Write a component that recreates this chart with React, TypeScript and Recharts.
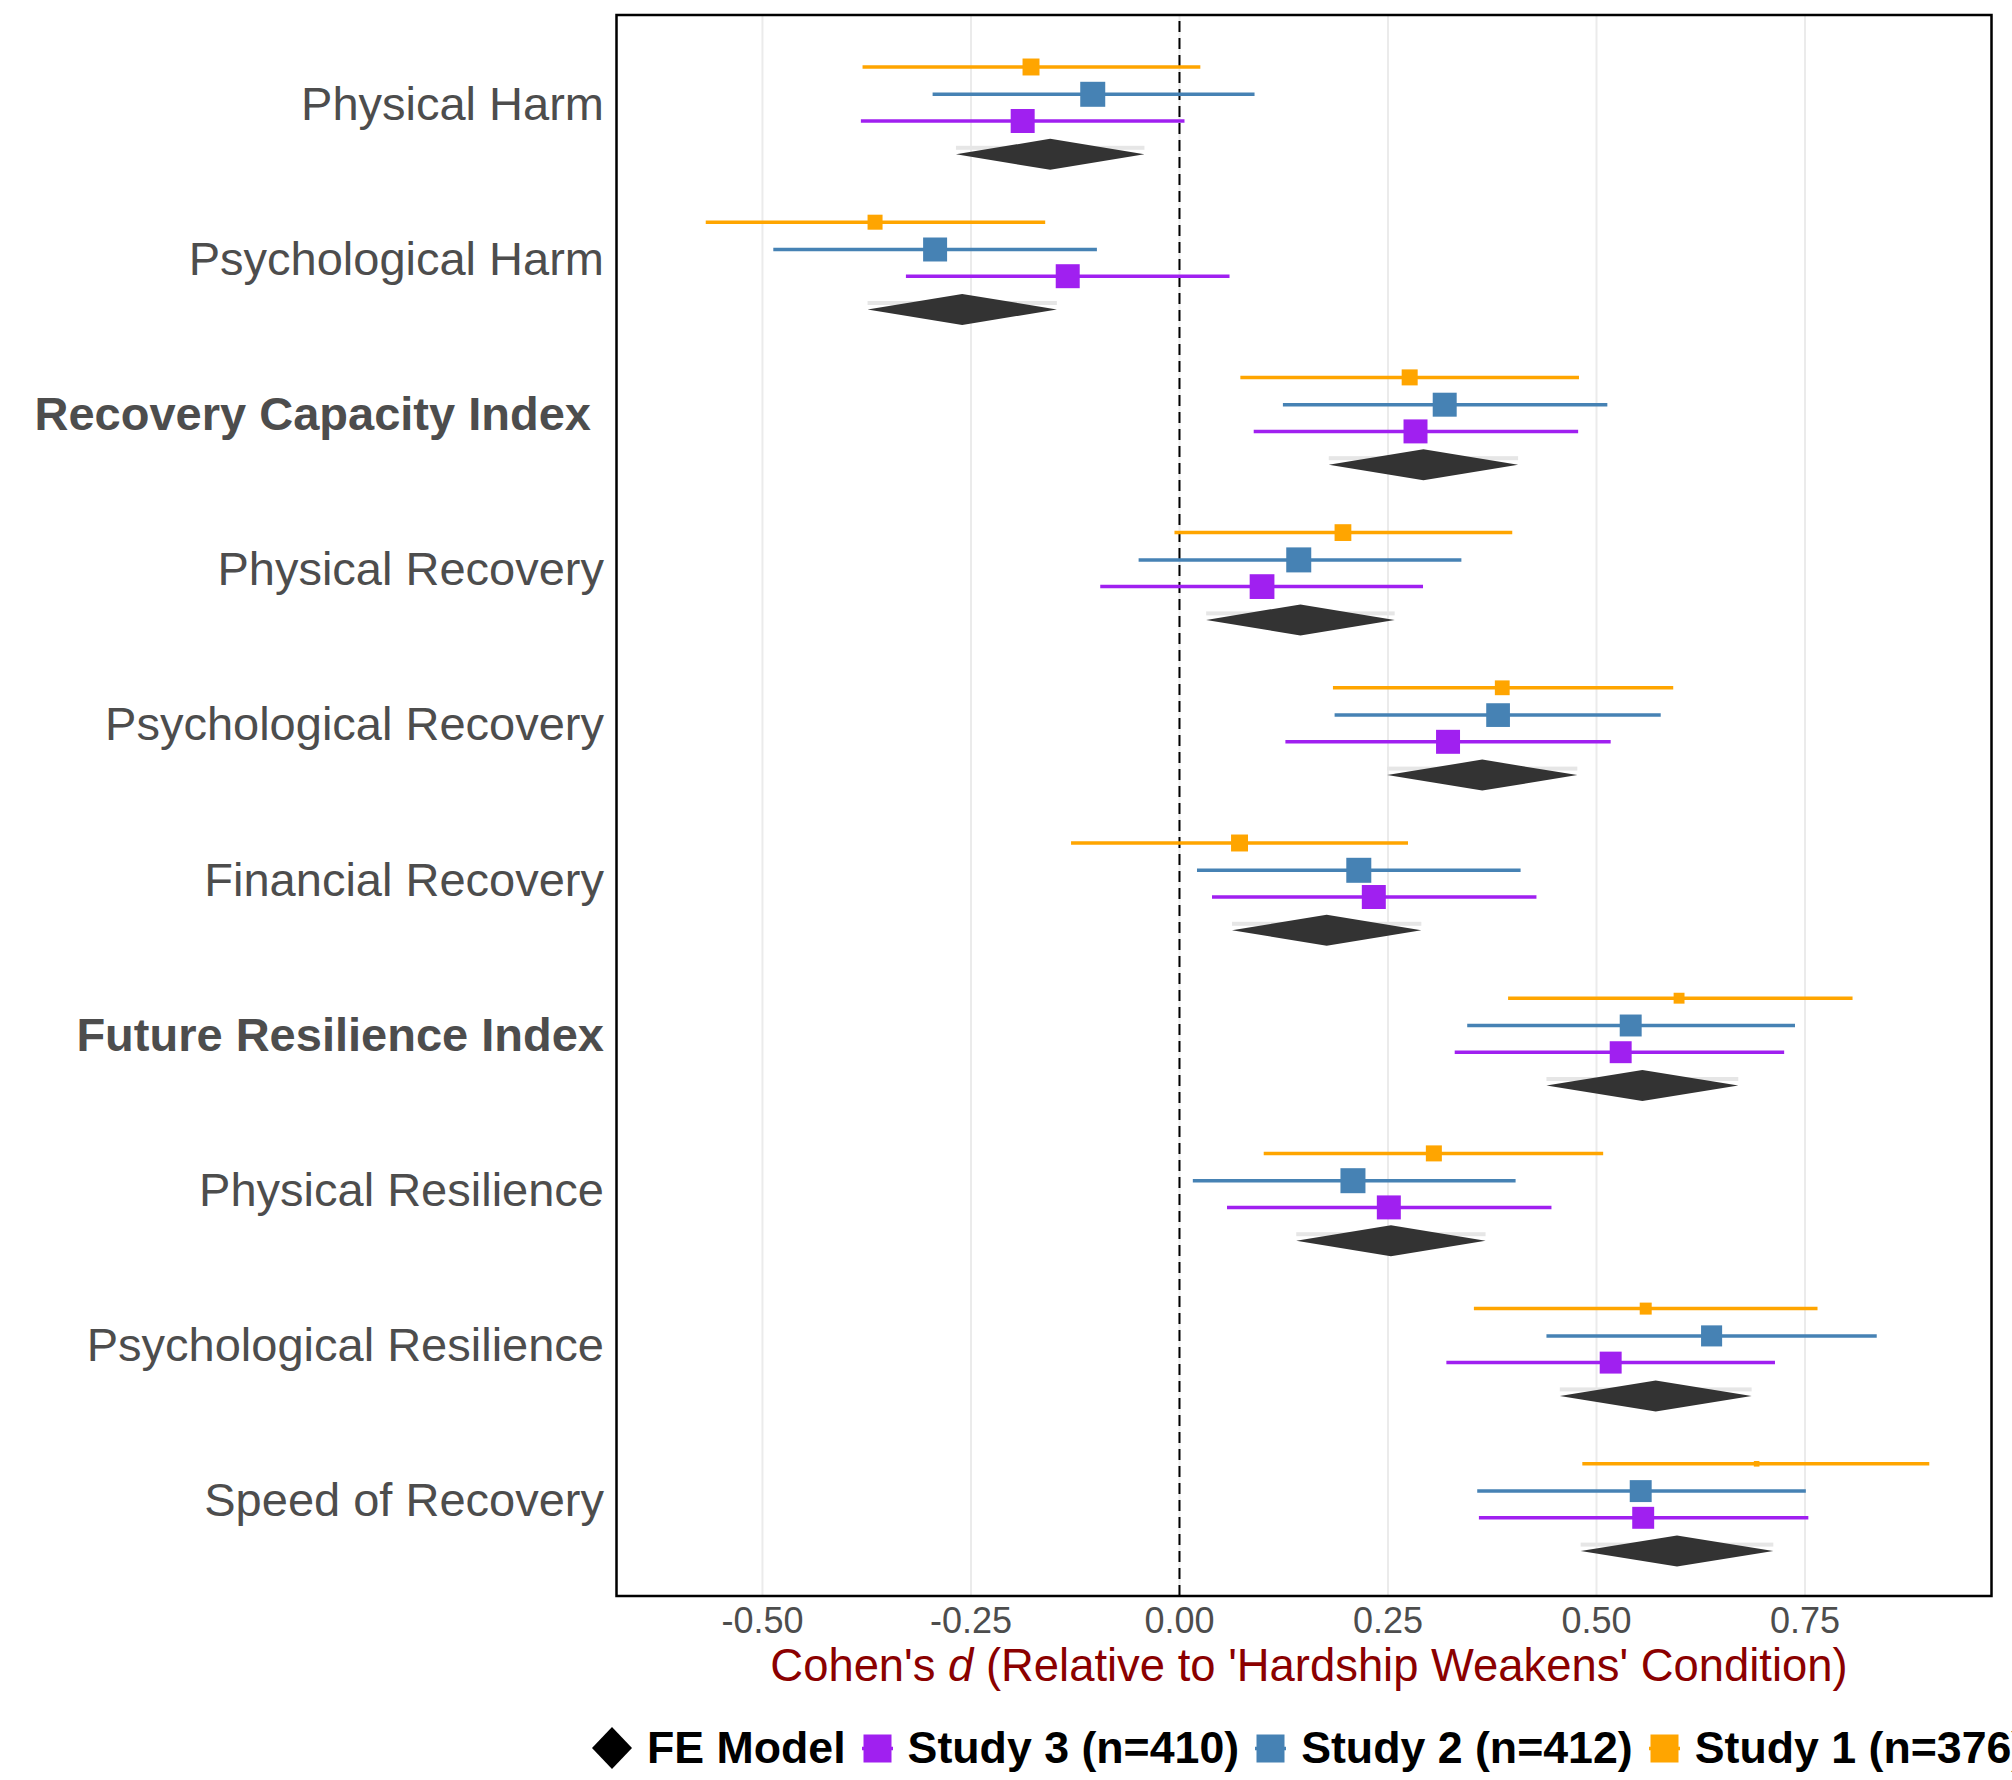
import React from 'react';
import {
  ComposedChart, XAxis, YAxis, ZAxis, Scatter, ErrorBar,
  ReferenceLine, ReferenceArea, CartesianGrid,
} from 'recharts';

const CATEGORIES = [
  'Physical Harm',
  'Psychological Harm',
  'Recovery Capacity Index ',
  'Physical Recovery',
  'Psychological Recovery',
  'Financial Recovery',
  'Future Resilience Index',
  'Physical Resilience',
  'Psychological Resilience',
  'Speed of Recovery',
];

const X_TICKS = [-0.5, -0.25, 0, 0.25, 0.5, 0.75];
const X_TICK_LABELS = ['-0.50', '-0.25', '0.00', '0.25', '0.50', '0.75'];

// Study 1 (n=376)
const S1_EST = [-0.178, -0.365, 0.276, 0.196, 0.387, 0.072, 0.599, 0.305, 0.559, 0.692];
const S1_LO  = [-0.380, -0.568, 0.073, -0.006, 0.184, -0.130, 0.394, 0.101, 0.353, 0.483];
const S1_HI  = [0.025, -0.161, 0.479, 0.399, 0.592, 0.274, 0.807, 0.508, 0.765, 0.899];
const S1_W   = [0.46, 0.36, 0.41, 0.45, 0.35, 0.46, 0.19, 0.41, 0.23, 0.05];

// Study 2 (n=412)
const S2_EST = [-0.104, -0.293, 0.318, 0.143, 0.382, 0.215, 0.541, 0.208, 0.638, 0.553];
const S2_LO  = [-0.296, -0.487, 0.124, -0.049, 0.186, 0.021, 0.345, 0.016, 0.440, 0.357];
const S2_HI  = [0.090, -0.099, 0.513, 0.338, 0.577, 0.409, 0.738, 0.403, 0.836, 0.751];
const S2_W   = [1.0, 0.92, 0.92, 1.0, 0.9, 1.0, 0.77, 1.0, 0.71, 0.77];

// Study 3 (n=410)
const S3_EST = [-0.188, -0.134, 0.283, 0.099, 0.322, 0.233, 0.529, 0.251, 0.517, 0.556];
const S3_LO  = [-0.382, -0.328, 0.089, -0.095, 0.127, 0.039, 0.330, 0.057, 0.320, 0.359];
const S3_HI  = [0.006, 0.060, 0.478, 0.292, 0.517, 0.428, 0.725, 0.446, 0.714, 0.754];
const S3_W   = [0.92, 0.92, 0.92, 0.98, 0.92, 0.92, 0.77, 0.92, 0.77, 0.77];

// Fixed-effect pooled estimate
const FE_EST = [-0.155, -0.260, 0.293, 0.145, 0.363, 0.177, 0.554, 0.253, 0.572, 0.597];
const FE_LO  = [-0.268, -0.374, 0.179, 0.032, 0.249, 0.063, 0.440, 0.140, 0.456, 0.481];
const FE_HI  = [-0.042, -0.147, 0.406, 0.258, 0.477, 0.290, 0.670, 0.367, 0.686, 0.712];

const FONT = '"Liberation Sans", Arial, Helvetica, sans-serif';
const ORANGE = '#FFA500';
const BLUE = '#4682B4';
const PURPLE = '#A020F0';
const DARK = '#333333';

const X_MIN = -0.675;
const X_MAX = 0.9736;
const Y_MIN = -0.5644;
const Y_MAX = 9.6224;

const STUDIES = [
  { name: 'Study 1 (n=376)', color: ORANGE, est: S1_EST, lo: S1_LO, hi: S1_HI, w: S1_W, off: -0.2294 },
  { name: 'Study 2 (n=412)', color: BLUE,   est: S2_EST, lo: S2_LO, hi: S2_HI, w: S2_W, off: -0.0535 },
  { name: 'Study 3 (n=410)', color: PURPLE, est: S3_EST, lo: S3_LO, hi: S3_HI, w: S3_W, off: 0.1186 },
];
const FE_OFF = 0.3331;
const FE_HALF = 0.1;

const LEGEND = [
  { label: 'FE Model',        color: '#000000', kind: 'diamond' },
  { label: 'Study 3 (n=410)', color: PURPLE,    kind: 'square' },
  { label: 'Study 2 (n=412)', color: BLUE,      kind: 'square' },
  { label: 'Study 1 (n=376)', color: ORANGE,    kind: 'square' },
];

function Square(props: any) {
  const { cx, cy, fill } = props;
  if (cx == null || cy == null) return null;
  const s = props.width ?? 2 * Math.sqrt((props.size || 0) / Math.PI);
  return <rect x={cx - s / 2} y={cy - s / 2} width={s} height={s} fill={fill} />;
}

// pooled diamond, with the faint grey CI band sitting just behind it
function Diamond(props: any) {
  const { x, y, width, height } = props;
  const my = y + height / 2;
  const mx = x + width / 2;
  return (
    <g>
      <rect x={x} y={my - 8.5} width={width} height={4} fill="#E6E6E6" />
      <polygon
        points={`${x},${my} ${mx},${y} ${x + width},${my} ${mx},${y + height}`}
        fill={DARK}
      />
    </g>
  );
}

function YTick({ x, y, payload }: any) {
  const label = CATEGORIES[payload.value] ?? '';
  const bold = label.includes('Index');
  return (
    <text x={x} y={y} dy={17} textAnchor="end" fill="#4D4D4D" fontSize={47}
          fontWeight={bold ? 700 : 400} fontFamily={FONT} style={{ whiteSpace: 'pre' }}>
      {label}
    </text>
  );
}

function XTick({ x, y, payload }: any) {
  const i = X_TICKS.indexOf(payload.value);
  return (
    <text x={x} y={y} dy={37} textAnchor="middle" fill="#4D4D4D" fontSize={36} fontFamily={FONT}>
      {X_TICK_LABELS[i] ?? payload.value}
    </text>
  );
}

function AxisTitle(props: any) {
  const vb = props.viewBox || { x: 0, y: 0, width: 0 };
  return (
    <text x={vb.x + vb.width / 2 + 5} y={vb.y + 85} textAnchor="middle" fill="#8B0000"
          fontSize={45.4} fontFamily={FONT}>
      {"Cohen's "}
      <tspan fontStyle="italic">d</tspan>
      {" (Relative to 'Hardship Weakens' Condition)"}
    </text>
  );
}

export default function App() {
  const series = STUDIES.map((s) => ({
    ...s,
    data: CATEGORIES.map((_, i) => ({
      x: s.est[i],
      y: i + s.off,
      z: s.w[i],
      err: [s.est[i] - s.lo[i], s.hi[i] - s.est[i]],
    })),
  }));

  return (
    <div style={{ position: 'absolute', left: 0, top: 0, width: 2012, height: 1780, overflow: 'hidden', background: '#fff' }}>
      <ComposedChart width={2012} height={1780} margin={{ top: 15, right: 20.5, bottom: 124, left: 0 }}>
        <CartesianGrid horizontal={false} stroke="#EBEBEB" strokeWidth={2} />
        <XAxis type="number" dataKey="x" domain={[X_MIN, X_MAX]} ticks={X_TICKS} interval={0}
               allowDataOverflow axisLine={false} tickLine={false} tickSize={0} tickMargin={0}
               tick={<XTick />} height={60} label={<AxisTitle />} />
        <YAxis type="number" dataKey="y" domain={[Y_MIN, Y_MAX]} reversed allowDataOverflow
               ticks={CATEGORIES.map((_, i) => i)} interval={0}
               axisLine={false} tickLine={false} tickSize={0} tickMargin={12.5}
               tick={<YTick />} width={616.5} />
        <ZAxis type="number" dataKey="z" domain={[0, 1]} range={[0, Math.PI * 12.5 * 12.5]} />

        <ReferenceLine x={0} stroke="#000" strokeWidth={2} strokeDasharray="11 6" />

        {FE_EST.map((_, i) => (
          <ReferenceArea key={`fe-${i}`} x1={FE_LO[i]} x2={FE_HI[i]}
                         y1={i + FE_OFF - FE_HALF} y2={i + FE_OFF + FE_HALF}
                         shape={<Diamond />} />
        ))}

        {series.map((s) => (
          <Scatter key={s.name} name={s.name} data={s.data} fill={s.color}
                   shape={<Square />} isAnimationActive={false}>
            <ErrorBar dataKey="err" direction="x" width={0} stroke={s.color}
                      strokeWidth={3.5} isAnimationActive={false} />
          </Scatter>
        ))}

        <ReferenceArea x1={X_MIN} x2={X_MAX} y1={Y_MIN} y2={Y_MAX} fill="none" fillOpacity={0}
                       stroke="#000" strokeWidth={2.5} ifOverflow="visible" />
      </ComposedChart>

      <div style={{
        position: 'absolute', left: 589, top: 1718, height: 60, display: 'flex',
        alignItems: 'center', whiteSpace: 'nowrap', fontFamily: FONT, fontWeight: 700,
        fontSize: 44.7, color: '#000',
      }}>
        {LEGEND.map((item) => (
          <div key={item.label} style={{ display: 'flex', alignItems: 'center', marginRight: 16 }}>
            {item.kind === 'diamond' ? (
              <svg width={46} height={44} style={{ marginRight: 12 }}>
                <polygon points="3,22 23,1 43,22 23,43" fill={item.color} />
              </svg>
            ) : (
              <svg width={31} height={31} style={{ marginRight: 15 }}>
                <rect x={0} y={13.75} width={31} height={3.5} fill={item.color} />
                <rect x={1.5} y={1.5} width={28} height={28} fill={item.color} />
              </svg>
            )}
            <span>{item.label}</span>
          </div>
        ))}
      </div>
    </div>
  );
}
